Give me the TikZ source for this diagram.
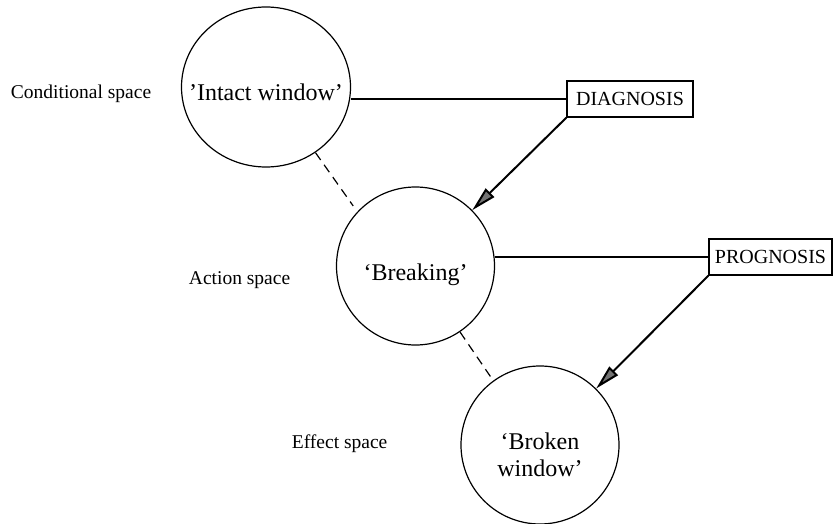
\documentclass[tikz,border=0pt]{standalone}
\usepackage{fontspec}
\setmainfont{Liberation Serif}
\usetikzlibrary{positioning,arrows.meta,shapes.geometric}

\begin{document}
\begin{tikzpicture}[x=1pt,y=-1pt]
\useasboundingbox (0,0) rectangle (833,524);
\draw[
    line width=1.2pt,
    every node/.style={align=center},
    every label/.style={align=center, font=\fontsize{24}{27}\selectfont},
    space/.style={ellipse, draw, inner sep=0pt},
    frame/.style={rectangle, draw, line width=1.4pt, inner sep=0pt,
        minimum height=36pt, font=\fontsize{20}{22}\selectfont},
    tag/.style={anchor=west, font=\fontsize{19.5}{22}\selectfont},
    hint/.style={dash pattern=on 9pt off 6pt},
    push/.style={line width=2pt, -{Triangle[length=25pt,width=12pt,fill=black!55]}},
]
(266,87) node[space, minimum width=169pt, minimum height=160pt,
    label={[yshift=-5pt]center:’Intact window’}] (intact) {}
(415.5,266) node[space, minimum size=158pt,
    label={[yshift=-9pt]center:‘Breaking’}] (breaking) {}
(540,445) node[space, minimum size=158pt,
    label={[yshift=-10pt]center:‘Broken\\window’}] (broken) {}
(630,99) node[frame, minimum width=126pt] (diag) {DIAGNOSIS}
(770.5,257) node[frame, minimum width=123pt] (prog) {PROGNOSIS}
(7,94) node[tag] (cond) {Conditional space}
(185,280) node[tag] (act) {Action space}
(288,444) node[tag] (eff) {Effect space}
(diag.west) edge (diag.west -| intact.east)
(prog.west) edge (prog.west -| breaking.east)
(diag.south west) edge[push] (breaking)
(prog.south west) edge[push] (broken)
(intact.-53) edge[hint, shorten >=7pt] (breaking.137)
(breaking.-56) edge[hint, shorten >=5pt] (broken.126)
;
\end{tikzpicture}
\end{document}
